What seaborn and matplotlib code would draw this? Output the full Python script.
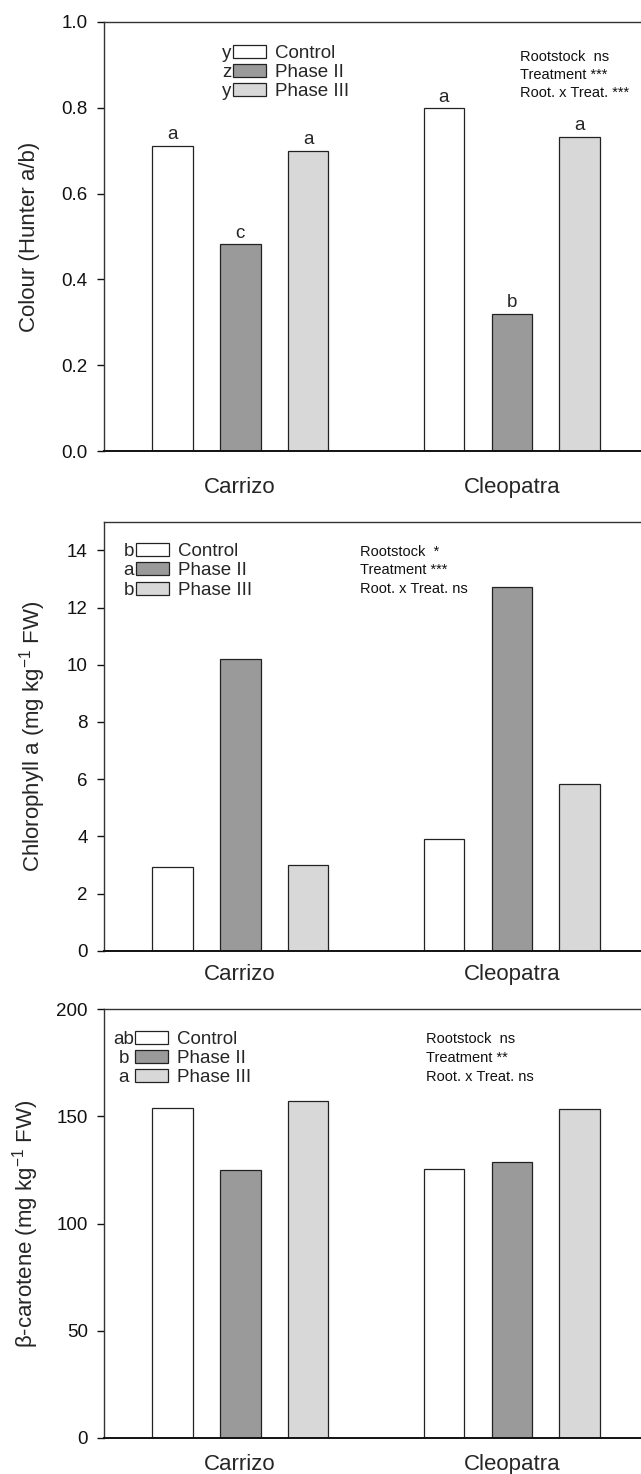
import numpy as np
import pandas as pd
import seaborn as sns
from matplotlib import pyplot as plt

# values
rootstocks = ['Carrizo', 'Cleopatra']
treatments = ['Control', 'Phase II', 'Phase III']
bar_colors = ['#ffffff', '#9a9a9a', '#d8d8d8']

colour_carrizo = [0.712, 0.482, 0.700]
colour_cleopatra = [0.800, 0.320, 0.733]
colour_letters = [['a', 'a'], ['c', 'b'], ['a', 'a']]

chl_carrizo = [2.94, 10.19, 2.98]
chl_cleopatra = [3.91, 12.73, 5.82]

car_carrizo = [153.9, 125.1, 157.3]
car_cleopatra = [125.3, 128.6, 153.6]

legend_letters = [['y', 'z', 'y'], ['b', 'a', 'b'], ['ab', 'b', 'a']]
stats_lines = [
    ['Rootstock  ns', 'Treatment ***', 'Root. x Treat. ***'],
    ['Rootstock  *', 'Treatment ***', 'Root. x Treat. ns'],
    ['Rootstock  ns', 'Treatment **', 'Root. x Treat. ns'],
]
ylabels = ['Colour (Hunter a/b)',
           'Chlorophyll a (mg kg$^{-1}$ FW)',
           'β-carotene (mg kg$^{-1}$ FW)']

sns.set_theme(style='white')
plt.rcParams['font.family'] = ['Liberation Sans', 'DejaVu Sans']
plt.rcParams['mathtext.fontset'] = 'custom'
plt.rcParams['mathtext.rm'] = 'Liberation Sans'
plt.rcParams['mathtext.it'] = 'Liberation Sans:italic'


def make_df(carrizo, cleopatra):
    rows = []
    for t, v in zip(treatments, carrizo):
        rows.append(('Carrizo', t, v))
    for t, v in zip(treatments, cleopatra):
        rows.append(('Cleopatra', t, v))
    return pd.DataFrame(rows, columns=['rootstock', 'treatment', 'value'])


W, H = 641, 1474
fig = plt.figure(figsize=(W / 100, H / 100), dpi=100)

# axes boxes in pixels: top, bottom of plotting area
boxes = [(22, 451), (521.7, 950.7), (1009.3, 1437.7)]
axes = []
for top, bot in boxes:
    axes.append(fig.add_axes([103.5 / W, (H - bot) / H, 537.5 / W, (bot - top) / H]))

dfs = [make_df(colour_carrizo, colour_cleopatra),
       make_df(chl_carrizo, chl_cleopatra),
       make_df(car_carrizo, car_cleopatra)]
ylims = [(0, 1.0), (0, 15), (0, 200)]
yticks = [np.arange(0, 1.01, 0.2), np.arange(0, 15, 2), np.arange(0, 201, 50)]
xpads = [18.5, 9.5, 11.5]
label_x = [29.4, 32.7, 25.3]
leg_pos = [(233, 72.5), (135.7, 570.8), (135, 1058.5)]
stats_pos = [(520, [56.7, 75, 93.3]), (359.8, [551.7, 570, 589.3]), (426.4, [1039.3, 1058.3, 1077.3])]

for i, ax in enumerate(axes):
    top, bot = boxes[i]
    sns.barplot(data=dfs[i], x='rootstock', y='value', hue='treatment',
                hue_order=treatments, palette=bar_colors, width=0.75, gap=0.4,
                edgecolor='#222222', linewidth=0.9, saturation=1, ax=ax)
    ax.set_xlim(-0.503, 1.475)
    ax.set_ylim(*ylims[i])
    ax.set_yticks(yticks[i])
    if i == 0:
        ax.set_yticklabels([f'{v:.1f}' for v in yticks[i]])
    ax.set_xlabel('')
    ax.set_ylabel(ylabels[i], fontsize=16, va='center')
    ax.yaxis.set_label_coords((label_x[i] - 103.5) / 537.5, 0.5)
    ax.tick_params(axis='y', left=True, direction='out', length=4.8, width=1,
                   pad=6.5, labelsize=13.5, colors='#111111')
    ax.tick_params(axis='x', bottom=False, length=0, pad=xpads[i], labelsize=16)
    for s in ['left', 'top']:
        ax.spines[s].set_color('#333333')
        ax.spines[s].set_linewidth(1.0)
    ax.spines['bottom'].set_color('#111111')
    ax.spines['bottom'].set_linewidth(1.4)
    ax.spines['right'].set_visible(False)

    # legend
    old = ax.get_legend()
    handles = old.legend_handles
    labels = [t.get_text() for t in old.get_texts()]
    old.remove()
    lx, ly = leg_pos[i]
    leg = ax.legend(handles, labels, loc='center left',
                    bbox_to_anchor=((lx - 103.5) / 537.5, (bot - ly) / (bot - top)),
                    frameon=False, fontsize=13.5, borderpad=0, borderaxespad=0,
                    handlelength=1.75, handleheight=0.7, handletextpad=0.5,
                    labelspacing=0.12)
    for h, c in zip(leg.legend_handles, bar_colors):
        h.set_facecolor(c)
        h.set_edgecolor('#222222')
        h.set_linewidth(0.9)

    # stats text
    sx, sys_ = stats_pos[i]
    for line, yy in zip(stats_lines[i], sys_):
        ax.text((sx - 103.5) / 537.5, (bot - yy) / (bot - top), line,
                transform=ax.transAxes, ha='left', va='center', fontsize=10.5,
                color='#111111')

# letters over the colour bars
for cont, labs in zip(axes[0].containers, colour_letters):
    axes[0].bar_label(cont, labels=labs, padding=1.6, fontsize=13.5)

# letters next to the legend patches
fig.canvas.draw()
for i, ax in enumerate(axes):
    leg = ax.get_legend()
    inv = ax.transAxes.inverted()
    for h, let in zip(leg.legend_handles, legend_letters[i]):
        bb = h.get_window_extent()
        yc = (bb.y0 + bb.y1) / 2
        if i == 2:
            x, y = inv.transform((bb.x0 - 11.5, yc))
            ha = 'center'
        else:
            x, y = inv.transform((bb.x0 - 1.5, yc))
            ha = 'right'
        ax.text(x, y, let, transform=ax.transAxes, ha=ha, va='center_baseline',
                fontsize=13.5)

fig.savefig('out.png', dpi=100)
